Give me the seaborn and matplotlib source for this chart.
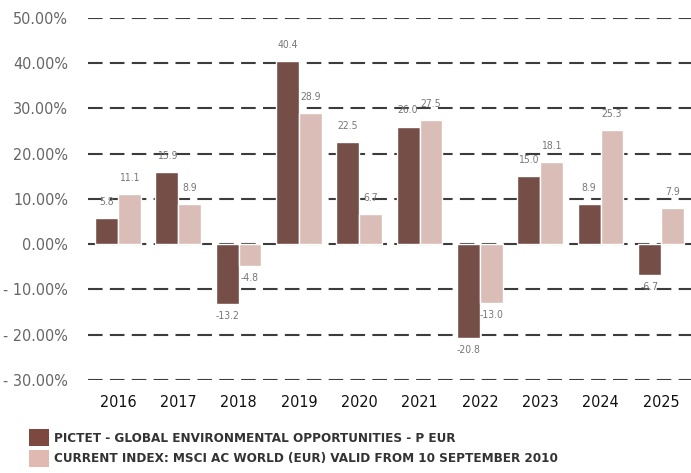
import pandas as pd
import seaborn as sns
import matplotlib.pyplot as plt
from matplotlib.patches import Patch
from matplotlib.ticker import FuncFormatter

years = ['2016', '2017', '2018', '2019', '2020', '2021', '2022', '2023', '2024', '2025']
fund = [5.8, 15.9, -13.2, 40.4, 22.5, 26.0, -20.8, 15.0, 8.9, -6.7]
index = [11.1, 8.9, -4.8, 28.9, 6.7, 27.5, -13.0, 18.1, 25.3, 7.9]
series_names = ['PICTET - GLOBAL ENVIRONMENTAL OPPORTUNITIES - P EUR',
                'CURRENT INDEX: MSCI AC WORLD (EUR) VALID FROM 10 SEPTEMBER 2010']
colors = ['#7d4840', '#e0b9b0']

df = pd.DataFrame({
    'Year': years * 2,
    'Return': fund + index,
    'Series': [series_names[0]] * len(years) + [series_names[1]] * len(years),
})

sns.set_style('white')
plt.rcParams['font.family'] = ['DejaVu Sans']
plt.rcParams['font.stretch'] = 'condensed'

fig = plt.figure(figsize=(6.91, 4.73), dpi=100)
ax = fig.add_axes([0.127, 0.1966, 0.873, 0.7654])

sns.barplot(data=df, x='Year', y='Return', hue='Series', palette=colors,
            width=0.76, edgecolor='white', linewidth=1, legend=False, ax=ax)

ax.set_ylim(-30, 50)
ax.set_xlim(-0.5, 9.5)
ax.set_yticks(range(-30, 51, 10))
ax.yaxis.set_major_formatter(FuncFormatter(
    lambda v, p: f'{v:.2f}%' if v >= 0 else f'- {abs(v):.2f}%'))
ax.grid(axis='y', color='#3c3c3c', linewidth=1.5, linestyle=(0, (7, 3.5)))
ax.set_axisbelow(True)
for s in ax.spines.values():
    s.set_visible(False)
ax.tick_params(axis='both', length=0)
ax.tick_params(axis='y', labelsize=11.5, labelcolor='#666666', pad=14)
ax.tick_params(axis='x', labelsize=11.5, labelcolor='#111111', pad=11)
ax.set_xlabel('')
ax.set_ylabel('')

# value labels
for container in ax.containers:
    for bar in container:
        h = bar.get_height()
        x = bar.get_x() + bar.get_width() / 2
        if h >= 0:
            ax.annotate(f'{h:.1f}', (x, h), xytext=(0, 8), textcoords='offset points',
                        ha='center', va='bottom', fontsize=7.5, color='#777777')
        else:
            ax.annotate(f'{h:.1f}', (x, h), xytext=(0, -5), textcoords='offset points',
                        ha='center', va='top', fontsize=7.5, color='#777777')

handles = [Patch(facecolor=c, edgecolor='none') for c in colors]
fig.legend(handles, series_names, loc='lower left', bbox_to_anchor=(0.025, -0.012),
           frameon=False, handlelength=1.5, handleheight=1.6, handletextpad=0.35,
           labelspacing=0.28, prop={'weight': 'bold', 'size': 9.6}, labelcolor='#333333')

fig.savefig('out.png', dpi=100)
